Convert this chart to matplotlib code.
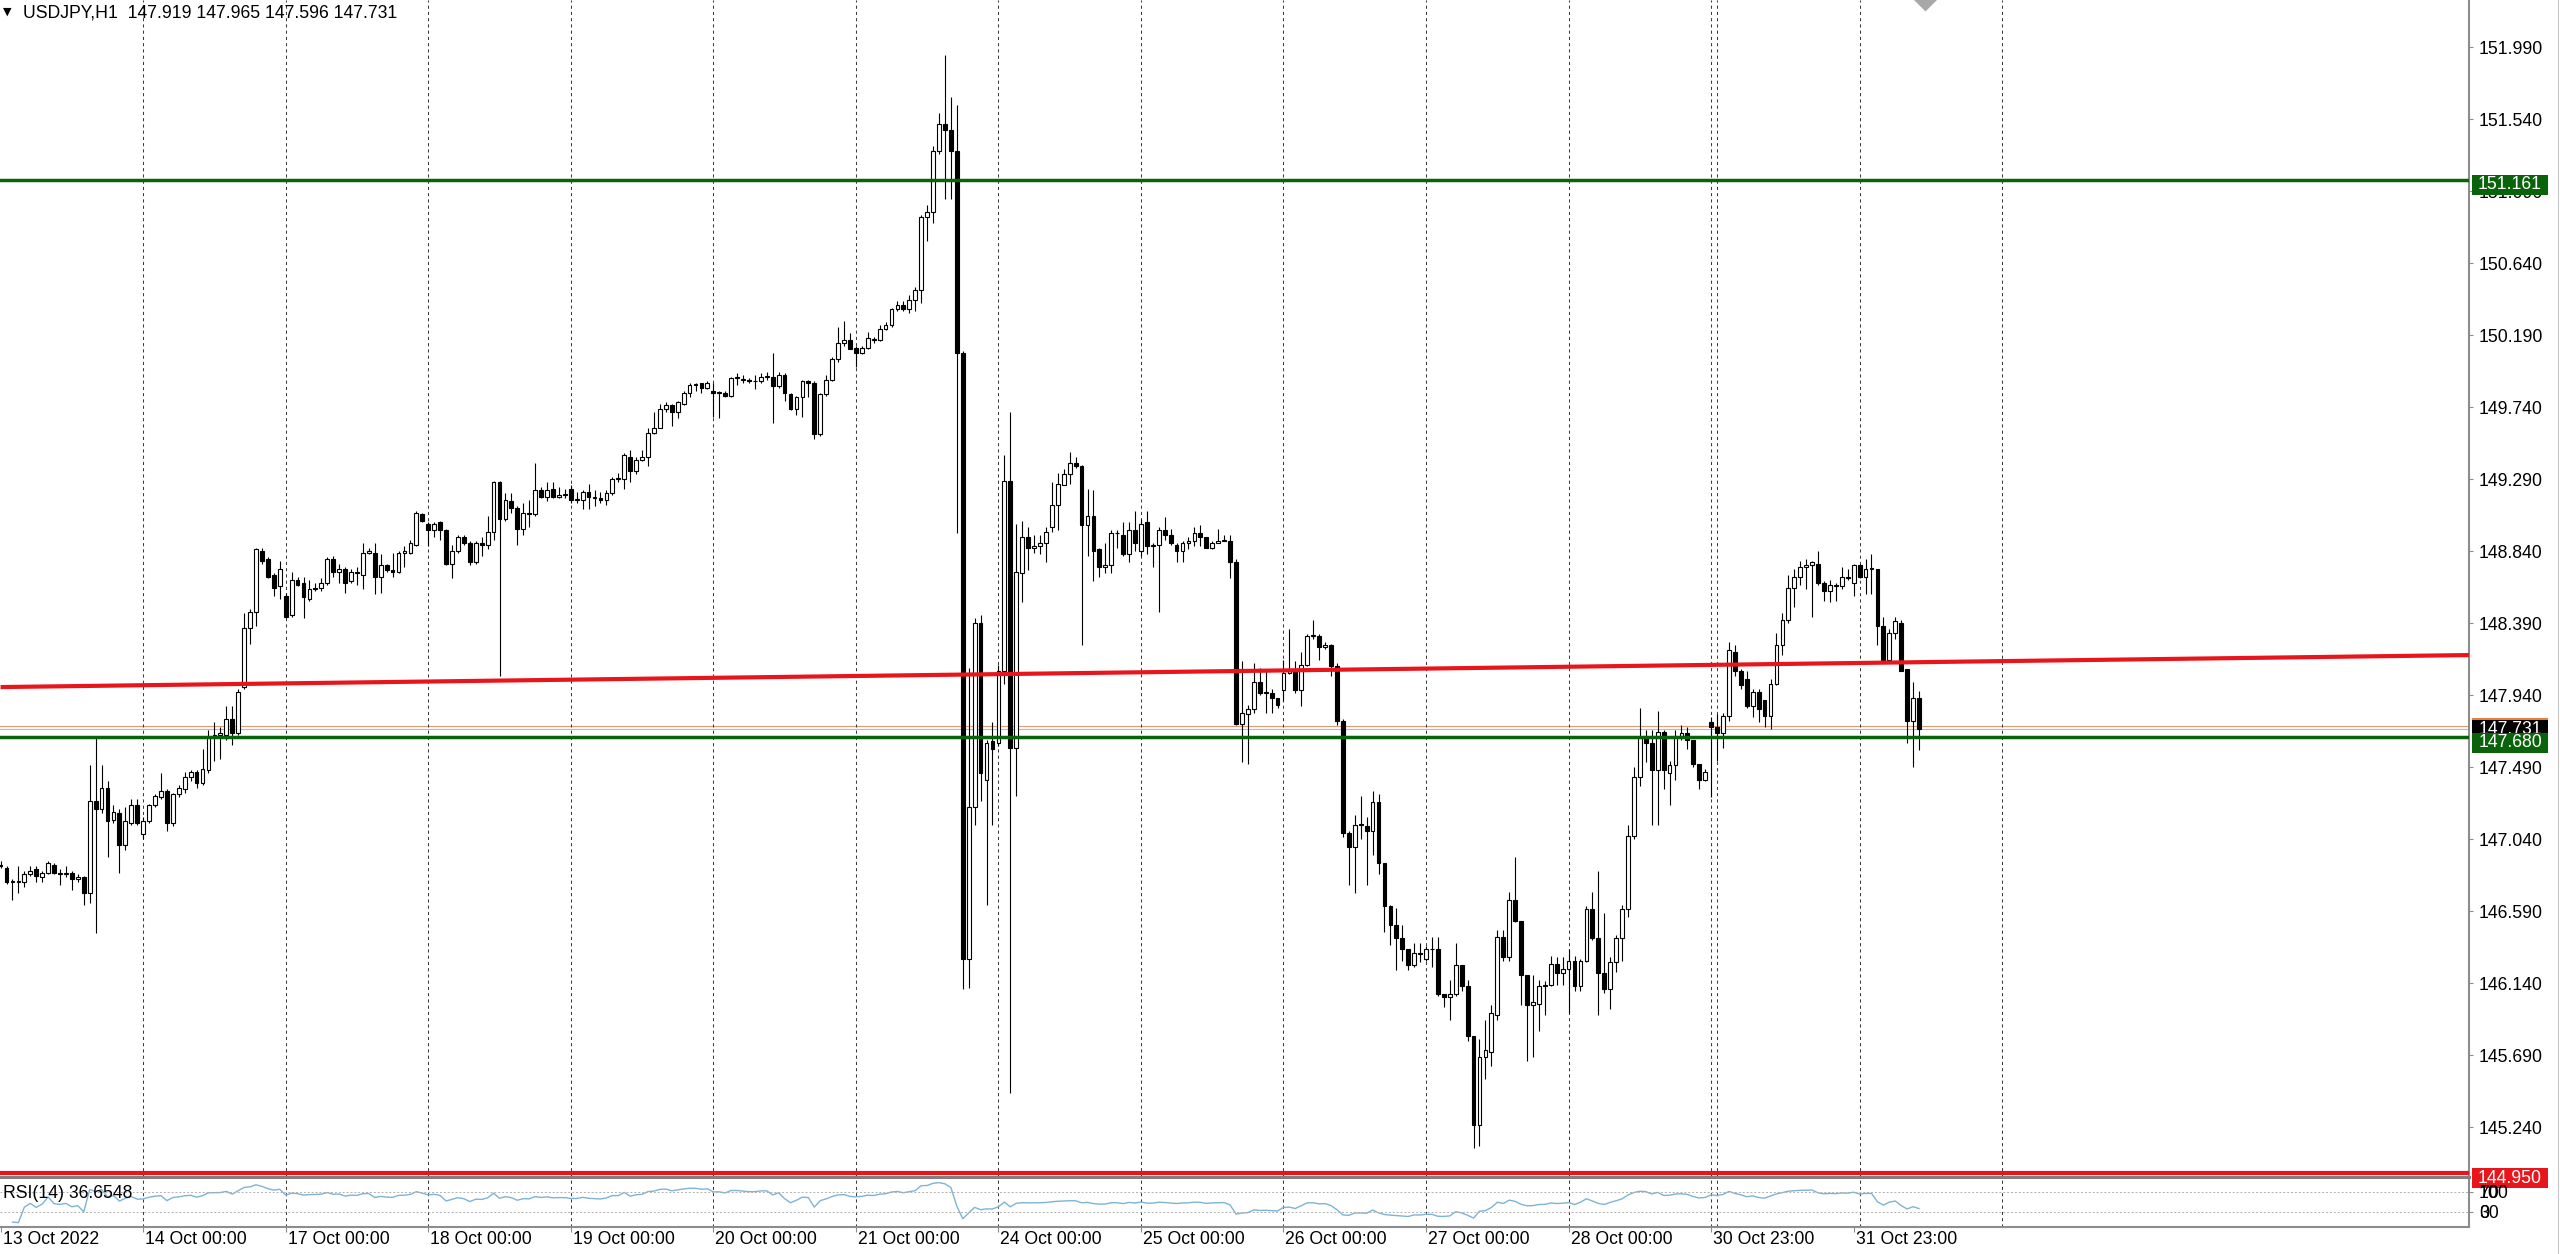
import numpy as np
import pandas as pd
import matplotlib
matplotlib.use("Agg")
import matplotlib.pyplot as plt
from matplotlib.transforms import blended_transform_factory
from matplotlib.lines import Line2D
from matplotlib.patches import Rectangle

plt.rcParams['font.family'] = ['Liberation Sans', 'DejaVu Sans']

# --- chart data (USDJPY H1, 13 Oct 2022 00:00 .. 1 Nov 2022 10:00), one line per trading day ---
symbol_text = "USDJPY,H1  147.919 147.965 147.596 147.731"

opens = [
    146.88, 146.86, 146.77, 146.78, 146.77, 146.82, 146.85, 146.80, 146.83, 146.88, 146.83, 146.82, 146.83, 146.79, 146.80, 146.70, 147.28, 147.23, 147.36, 147.16, 147.20, 147.00, 147.14, 147.25,
    147.07, 147.15, 147.25, 147.30, 147.34, 147.14, 147.32, 147.35, 147.43, 147.46, 147.39, 147.47, 147.68, 147.69, 147.69, 147.79, 147.70, 147.99, 148.36, 148.46, 148.84, 148.79, 148.69, 148.62,
    148.56, 148.44, 148.66, 148.64, 148.54, 148.60, 148.61, 148.64, 148.79, 148.71, 148.73, 148.65, 148.71, 148.69, 148.83, 148.83, 148.68, 148.75, 148.72, 148.71, 148.83, 148.83, 148.88, 149.07,
    149.01, 148.97, 149.02, 148.97, 148.76, 148.84, 148.93, 148.89, 148.77, 148.89, 148.88, 148.96, 149.27, 149.04, 149.15, 149.11, 148.98, 149.08, 149.07, 149.22, 149.18, 149.23, 149.18, 149.19,
    149.23, 149.16, 149.16, 149.21, 149.17, 149.17, 149.16, 149.20, 149.29, 149.29, 149.43, 149.34, 149.41, 149.43, 149.58, 149.61, 149.73, 149.75, 149.71, 149.76, 149.83, 149.88, 149.89, 149.86,
    149.84, 149.83, 149.83, 149.81, 149.92, 149.91, 149.91, 149.90, 149.90, 149.93, 149.93, 149.87, 149.94, 149.82, 149.73, 149.80, 149.90, 149.89, 149.57, 149.82, 149.91, 150.04, 150.14, 150.16,
    150.11, 150.08, 150.11, 150.16, 150.16, 150.23, 150.25, 150.35, 150.38, 150.35, 150.41, 150.47, 150.93, 150.96, 151.34, 151.51, 151.47, 151.34, 150.08, 146.29, 147.24, 148.39, 147.41, 147.65,
    147.64, 148.09, 149.28, 147.61, 148.70, 148.93, 148.86, 148.87, 148.89, 148.99, 149.13, 149.25, 149.32, 149.39, 149.37, 149.00, 149.06, 148.85, 148.74, 148.75, 148.95, 148.94, 148.82, 148.97,
    148.84, 149.02, 148.87, 148.88, 148.97, 148.94, 148.88, 148.84, 148.89, 148.90, 148.95, 148.93, 148.86, 148.89, 148.90, 148.90, 148.77, 147.76, 147.82, 147.85, 148.02, 147.95, 147.95, 147.92,
    147.97, 148.08, 148.09, 147.97, 148.13, 148.31, 148.31, 148.24, 148.25, 148.12, 147.78, 147.08, 146.99, 147.13, 147.12, 147.09, 147.27, 146.89, 146.62, 146.50, 146.42, 146.35, 146.25, 146.33,
    146.29, 146.35, 146.35, 146.07, 146.05, 146.07, 146.25, 146.12, 145.81, 145.25, 145.68, 145.71, 145.94, 146.43, 146.30, 146.66, 146.53, 146.19, 146.00, 146.01, 146.12, 146.13, 146.26, 146.20,
    146.23, 146.28, 146.12, 146.28, 146.60, 146.42, 146.20, 146.10, 146.27, 146.42, 146.60, 147.06, 147.43, 147.67, 147.64, 147.47, 147.71, 147.45, 147.50, 147.68, 147.70, 147.66, 147.51, 147.41,
    147.77, 147.74, 147.70, 147.81, 148.21, 148.09, 148.04, 147.87, 147.96, 147.91, 147.81, 148.01, 148.25, 148.41, 148.61, 148.68, 148.74, 148.75, 148.76, 148.64, 148.59, 148.62, 148.62, 148.68,
    148.64, 148.75, 148.68, 148.73, 148.73, 148.37, 148.16, 148.33, 148.39, 148.10, 147.78, 147.919,
]
highs = [
    146.90, 146.87, 146.79, 146.87, 146.84, 146.87, 146.87, 146.84, 146.90, 146.89, 146.85, 146.87, 146.84, 146.82, 146.81, 147.50, 147.68, 147.50, 147.40, 147.25, 147.23, 147.24, 147.29, 147.29,
    147.18, 147.26, 147.32, 147.45, 147.35, 147.33, 147.38, 147.46, 147.47, 147.47, 147.60, 147.72, 147.77, 147.74, 147.87, 147.87, 147.98, 148.45, 148.48, 148.86, 148.86, 148.80, 148.70, 148.78,
    148.58, 148.71, 148.68, 148.68, 148.66, 148.64, 148.67, 148.80, 148.81, 148.76, 148.74, 148.73, 148.74, 148.89, 148.86, 148.89, 148.82, 148.76, 148.83, 148.84, 148.87, 148.91, 149.09, 149.08,
    149.02, 149.02, 149.03, 148.98, 148.88, 148.94, 148.94, 148.90, 148.90, 148.93, 149.06, 149.28, 149.28, 149.20, 149.20, 149.12, 149.14, 149.16, 149.39, 149.24, 149.27, 149.27, 149.24, 149.23,
    149.25, 149.21, 149.22, 149.26, 149.22, 149.21, 149.22, 149.30, 149.33, 149.45, 149.47, 149.43, 149.47, 149.61, 149.71, 149.76, 149.77, 149.76, 149.78, 149.84, 149.89, 149.89, 149.89, 149.90,
    149.89, 149.84, 149.84, 149.93, 149.95, 149.94, 149.92, 149.94, 149.95, 149.96, 150.08, 149.96, 149.95, 149.83, 149.81, 149.91, 149.91, 149.90, 149.83, 149.94, 150.05, 150.24, 150.28, 150.20,
    150.12, 150.12, 150.21, 150.18, 150.25, 150.27, 150.36, 150.40, 150.40, 150.44, 150.49, 150.94, 151.00, 151.37, 151.58, 151.94, 151.68, 151.63, 150.09, 148.11, 148.42, 148.44, 147.66, 147.77,
    148.13, 149.44, 149.71, 149.01, 149.03, 148.99, 148.94, 148.94, 148.99, 149.27, 149.33, 149.35, 149.46, 149.43, 149.38, 149.23, 149.22, 148.86, 148.89, 148.97, 148.97, 149.02, 149.02, 149.09,
    149.04, 149.09, 148.89, 148.99, 149.05, 148.98, 148.89, 148.90, 148.93, 148.99, 149.00, 148.93, 148.90, 148.98, 148.94, 148.94, 148.79, 148.15, 147.88, 148.14, 148.11, 148.09, 147.98, 147.92,
    148.16, 148.35, 148.15, 148.21, 148.32, 148.41, 148.32, 148.27, 148.26, 148.14, 147.79, 147.09, 147.19, 147.31, 147.18, 147.34, 147.32, 146.89, 146.63, 146.61, 146.50, 146.35, 146.39, 146.39,
    146.37, 146.43, 146.43, 146.07, 146.16, 146.39, 146.25, 146.16, 145.81, 145.79, 145.91, 146.00, 146.47, 146.47, 146.71, 146.93, 146.53, 146.19, 146.19, 146.16, 146.15, 146.31, 146.30, 146.30,
    146.35, 146.31, 146.29, 146.62, 146.71, 146.84, 146.58, 146.30, 146.44, 146.63, 147.13, 147.49, 147.86, 147.72, 147.72, 147.84, 147.72, 147.53, 147.72, 147.75, 147.74, 147.66, 147.51, 147.48,
    147.80, 147.82, 147.83, 148.27, 148.25, 148.10, 148.09, 147.98, 147.98, 147.91, 148.04, 148.33, 148.45, 148.69, 148.73, 148.78, 148.79, 148.78, 148.84, 148.65, 148.66, 148.64, 148.74, 148.73,
    148.76, 148.76, 148.79, 148.82, 148.73, 148.43, 148.35, 148.43, 148.41, 148.10, 148.02, 147.965,
]
lows = [
    146.86, 146.76, 146.66, 146.70, 146.74, 146.81, 146.77, 146.77, 146.82, 146.82, 146.75, 146.80, 146.72, 146.77, 146.63, 146.64, 146.45, 147.20, 146.93, 147.14, 146.83, 146.97, 147.13, 147.13,
    147.04, 147.14, 147.24, 147.29, 147.09, 147.12, 147.30, 147.33, 147.40, 147.36, 147.38, 147.45, 147.53, 147.54, 147.66, 147.63, 147.69, 147.98, 148.26, 148.37, 148.76, 148.67, 148.56, 148.54,
    148.42, 148.43, 148.62, 148.42, 148.53, 148.59, 148.59, 148.63, 148.68, 148.64, 148.58, 148.64, 148.63, 148.60, 148.82, 148.57, 148.58, 148.71, 148.68, 148.70, 148.74, 148.82, 148.87, 149.02,
    148.87, 148.93, 148.91, 148.75, 148.67, 148.83, 148.88, 148.75, 148.76, 148.81, 148.85, 148.91, 148.06, 149.03, 149.08, 148.88, 148.94, 148.99, 149.06, 149.17, 149.15, 149.17, 149.17, 149.17,
    149.14, 149.14, 149.10, 149.10, 149.12, 149.14, 149.13, 149.19, 149.27, 149.23, 149.27, 149.32, 149.40, 149.37, 149.57, 149.61, 149.71, 149.62, 149.67, 149.75, 149.80, 149.84, 149.83, 149.85,
    149.68, 149.67, 149.80, 149.80, 149.88, 149.89, 149.89, 149.85, 149.89, 149.91, 149.64, 149.86, 149.78, 149.72, 149.69, 149.68, 149.80, 149.54, 149.56, 149.81, 149.90, 150.02, 150.12, 150.10,
    149.99, 150.07, 150.10, 150.14, 150.15, 150.22, 150.24, 150.34, 150.34, 150.33, 150.34, 150.39, 150.78, 150.89, 151.32, 151.04, 151.04, 148.95, 146.10, 146.11, 147.13, 147.28, 146.63, 147.13,
    147.62, 148.01, 145.45, 147.31, 148.52, 148.72, 148.83, 148.82, 148.77, 148.96, 148.97, 149.25, 149.26, 149.36, 148.25, 148.81, 148.65, 148.68, 148.70, 148.70, 148.86, 148.81, 148.77, 148.84,
    148.81, 148.82, 148.74, 148.46, 148.91, 148.88, 148.77, 148.77, 148.85, 148.87, 148.87, 148.86, 148.85, 148.89, 148.90, 148.67, 147.75, 147.52, 147.51, 147.83, 147.94, 147.83, 147.83, 147.86,
    147.90, 148.07, 147.95, 147.87, 148.12, 148.29, 148.16, 148.23, 148.06, 147.75, 147.05, 146.75, 146.70, 147.04, 146.75, 146.94, 146.82, 146.46, 146.38, 146.22, 146.28, 146.22, 146.24, 146.27,
    146.28, 146.24, 146.06, 145.99, 145.91, 146.06, 146.09, 145.78, 145.11, 145.12, 145.54, 145.62, 145.91, 146.28, 146.28, 146.52, 146.00, 145.65, 145.68, 145.84, 145.94, 146.12, 146.13, 146.13,
    145.95, 146.09, 146.09, 146.27, 146.41, 145.94, 146.08, 145.98, 146.21, 146.28, 146.55, 147.04, 147.37, 147.52, 147.13, 147.13, 147.35, 147.25, 147.41, 147.66, 147.60, 147.49, 147.35, 147.40,
    147.30, 147.53, 147.61, 147.78, 148.06, 147.98, 147.86, 147.80, 147.77, 147.74, 147.73, 148.00, 148.19, 148.39, 148.49, 148.63, 148.60, 148.43, 148.63, 148.53, 148.52, 148.53, 148.60, 148.66,
    148.56, 148.67, 148.57, 148.57, 148.25, 148.14, 148.16, 148.29, 148.09, 147.64, 147.49, 147.596,
]
closes = [
    146.87, 146.77, 146.78, 146.77, 146.82, 146.84, 146.81, 146.83, 146.89, 146.83, 146.82, 146.83, 146.79, 146.80, 146.70, 147.28, 147.23, 147.36, 147.15, 147.21, 147.00, 147.15, 147.25, 147.14,
    147.15, 147.25, 147.31, 147.34, 147.14, 147.32, 147.36, 147.43, 147.46, 147.39, 147.48, 147.68, 147.69, 147.70, 147.79, 147.70, 147.96, 148.36, 148.46, 148.85, 148.78, 148.68, 148.61, 148.73,
    148.43, 148.66, 148.63, 148.55, 148.60, 148.61, 148.64, 148.79, 148.71, 148.73, 148.64, 148.71, 148.70, 148.83, 148.84, 148.68, 148.75, 148.72, 148.71, 148.83, 148.84, 148.89, 149.08, 149.03,
    148.97, 149.01, 148.97, 148.76, 148.84, 148.93, 148.89, 148.77, 148.89, 148.88, 148.96, 149.27, 149.04, 149.16, 149.11, 148.98, 149.08, 149.07, 149.22, 149.18, 149.22, 149.18, 149.19, 149.19,
    149.16, 149.16, 149.21, 149.18, 149.17, 149.16, 149.20, 149.29, 149.29, 149.44, 149.34, 149.41, 149.43, 149.58, 149.61, 149.73, 149.75, 149.71, 149.77, 149.83, 149.88, 149.88, 149.86, 149.89,
    149.83, 149.83, 149.81, 149.92, 149.92, 149.91, 149.90, 149.90, 149.93, 149.93, 149.87, 149.94, 149.83, 149.73, 149.80, 149.90, 149.89, 149.57, 149.82, 149.91, 150.04, 150.14, 150.16, 150.10,
    150.08, 150.11, 150.17, 150.16, 150.23, 150.25, 150.35, 150.38, 150.35, 150.41, 150.47, 150.93, 150.96, 151.34, 151.51, 151.47, 151.34, 150.08, 146.29, 147.24, 148.39, 147.45, 147.64, 147.60,
    148.09, 149.28, 147.61, 148.71, 148.93, 148.86, 148.87, 148.89, 148.96, 149.13, 149.26, 149.32, 149.39, 149.37, 149.00, 149.06, 148.84, 148.74, 148.75, 148.95, 148.95, 148.82, 148.97, 148.89,
    149.01, 148.87, 148.88, 148.97, 148.94, 148.89, 148.84, 148.89, 148.90, 148.95, 148.93, 148.86, 148.89, 148.90, 148.91, 148.77, 147.76, 147.83, 147.85, 148.02, 147.95, 147.96, 147.92, 147.88,
    148.08, 148.09, 147.97, 148.13, 148.31, 148.31, 148.24, 148.25, 148.12, 147.78, 147.08, 146.99, 147.13, 147.13, 147.09, 147.27, 146.89, 146.62, 146.50, 146.42, 146.35, 146.25, 146.33, 146.32,
    146.35, 146.35, 146.07, 146.05, 146.07, 146.25, 146.12, 145.81, 145.25, 145.68, 145.72, 145.95, 146.43, 146.30, 146.66, 146.53, 146.19, 146.00, 146.02, 146.12, 146.13, 146.26, 146.20, 146.23,
    146.28, 146.12, 146.28, 146.60, 146.42, 146.20, 146.10, 146.27, 146.42, 146.60, 147.06, 147.43, 147.67, 147.64, 147.47, 147.71, 147.47, 147.50, 147.68, 147.70, 147.66, 147.51, 147.41, 147.46,
    147.74, 147.70, 147.81, 148.22, 148.09, 148.00, 147.87, 147.96, 147.85, 147.81, 148.01, 148.25, 148.41, 148.61, 148.68, 148.74, 148.75, 148.77, 148.64, 148.59, 148.63, 148.62, 148.68, 148.67,
    148.75, 148.68, 148.73, 148.73, 148.37, 148.16, 148.33, 148.40, 148.09, 147.78, 147.92, 147.731,
]

date_ticks = [0, 24, 48, 72, 96, 120, 144, 168, 192, 216, 240, 264, 288, 312]
date_labels = ["13 Oct 2022", "14 Oct 00:00", "17 Oct 00:00", "18 Oct 00:00", "19 Oct 00:00",
               "20 Oct 00:00", "21 Oct 00:00", "24 Oct 00:00", "25 Oct 00:00", "26 Oct 00:00",
               "27 Oct 00:00", "28 Oct 00:00", "30 Oct 23:00", "31 Oct 23:00"]
day_separators = [24, 48, 72, 96, 120, 144, 168, 192, 216, 240, 264, 288, 289, 313, 337]

price_ticks = [145.240, 145.690, 146.140, 146.590, 147.040, 147.490, 147.940, 148.390,
               148.840, 149.290, 149.740, 150.190, 150.640, 151.090, 151.540, 151.990]
green_levels = [151.161, 147.680]
red_level = 144.950
trend_bars = [0, 415.6]
trend_prices = [147.99, 148.19]
bid_price = 147.731
ask_price = 147.749
arrow_bar = 324
arrow_price = 152.315

rsi_period = 14
rsi_label = "RSI(14) 36.6548"
rsi_levels = [30, 70]
rsi_scale = [("100", 70), ("70", 70), ("30", 30), ("0", 30)]   # MT4 squeezes the 0/100 labels

# --- layout in pixels of the 2560x1254 picture ---
W, H = 2560, 1254
FS = 12.7
PX = 160.0          # pixels per yen on the main scale
GREEN = '#0a620a'
RED = '#e8161c'

fig = plt.figure(figsize=(W / 100, H / 100), dpi=100)
fig.patch.set_facecolor('white')
ax = fig.add_axes([0, 77 / H, 2469 / W, 1177 / H])
ax_rsi = fig.add_axes([0, 27 / H, 2469 / W, 50 / H])

x = np.arange(len(closes))
o = np.array(opens)
h = np.array(highs)
l = np.array(lows)
c = np.array(closes)
up = c >= o

# candles
ax.vlines(x, l, h, color='black', lw=0.8, zorder=2)
body_low = np.minimum(o, c)
body_h = np.maximum(np.abs(c - o), 0.005)
ax.bar(x, body_h, bottom=body_low, width=0.64,
       color=np.where(up, 'white', 'black'), edgecolor='black', linewidth=0.8, zorder=3)

# objects drawn on the chart
ax.axhline(ask_price, color='#e39a6c', lw=0.8, zorder=1)
ax.axhline(bid_price, color='#b9b9b9', lw=0.8, zorder=1)
for lvl in green_levels:
    ax.axhline(lvl, color=GREEN, lw=2.5, zorder=4)
ax.axhline(red_level, color=RED, lw=3, zorder=4)
ax.plot(trend_bars, trend_prices, color=RED, lw=3, zorder=4, solid_capstyle='butt')
ax.plot([arrow_bar], [arrow_price], marker='D', ms=16, color='#a8a8a8', mec='none', zorder=5)

# RSI(14), Wilder smoothing
close_s = pd.Series(closes)
delta = close_s.diff().fillna(0)
gain = delta.clip(lower=0).ewm(alpha=1 / rsi_period, adjust=True).mean()
loss = (-delta.clip(upper=0)).ewm(alpha=1 / rsi_period, adjust=True).mean()
rsi = (100 * gain / (gain + loss)).fillna(50)
ax_rsi.plot(x[2:], rsi.values[2:], color='#7db4d6', lw=1)
for lvl in rsi_levels:
    ax_rsi.axhline(lvl, color='#b0b0b0', lw=0.7, ls=(0, (2, 2)))

for a in (ax, ax_rsi):
    for s in day_separators:
        a.axvline(s, color='#3c3c3c', lw=0.75, ls=(0, (3, 3)), zorder=1)
    a.set_xlim(-0.1, 415.6)
    a.set_facecolor('white')
    a.spines['left'].set_visible(False)
    a.spines['right'].set_color('#8c8c8c')
    a.spines['right'].set_linewidth(1.5)
    a.yaxis.tick_right()
    a.tick_params(axis='y', which='both', direction='out', length=3, width=0.8,
                  color='#8c8c8c', labelcolor='black', pad=4, labelsize=FS,
                  left=False, right=True, labelleft=False, labelright=True)

ax.set_ylim(144.928, 152.284)
ax.spines['top'].set_visible(False)
ax.spines['bottom'].set_color('#808080')
ax.spines['bottom'].set_linewidth(2.2)
ax.set_xticks([])
ax.set_yticks(price_ticks)
ax.set_yticklabels([f"{v:.3f}" for v in price_ticks])

ax_rsi.set_ylim(0, 100)
ax_rsi.spines['top'].set_color('#808080')
ax_rsi.spines['top'].set_linewidth(2.2)
ax_rsi.spines['bottom'].set_color('#8c8c8c')
ax_rsi.spines['bottom'].set_linewidth(1.5)
ax_rsi.set_yticks(rsi_levels)
ax_rsi.set_yticklabels([])
rsi_tr = blended_transform_factory(ax_rsi.transAxes, ax_rsi.transData)
for txt, lvl in rsi_scale:
    ax_rsi.annotate(txt, xy=(1, lvl), xycoords=rsi_tr, xytext=(10, -1), textcoords='offset pixels',
                    ha='left', va='center', fontsize=FS, annotation_clip=False, zorder=7)
ax_rsi.set_xticks(date_ticks)
ax_rsi.set_xticklabels([])
ax_rsi.tick_params(axis='x', direction='out', length=3.6, width=0.8, color='#8c8c8c')
for b, lab in zip(date_ticks, date_labels):
    ax_rsi.annotate(lab, xy=(b, 0), xycoords=('data', 'axes fraction'),
                    xytext=(2, -13), textcoords='offset pixels',
                    ha='left', va='center', fontsize=FS, annotation_clip=False)

# price tags on the right scale: boxes 2472..2548 px wide, 20 px high
tag_tr = blended_transform_factory(ax.transAxes, ax.transData)
def price_tag(price, bg, shift_px=0.0, top_edge=None):
    yc = price - shift_px / PX
    ax.add_patch(Rectangle((2472 / 2469, yc - 10 / PX), 76 / 2469, 20 / PX, transform=tag_tr,
                           facecolor=bg, edgecolor='none', clip_on=False, zorder=6))
    if top_edge:
        ax.add_patch(Rectangle((2472 / 2469, yc + 10 / PX), 76 / 2469, 2 / PX, transform=tag_tr,
                               facecolor=top_edge, edgecolor='none', clip_on=False, zorder=6))
    ax.text(2510 / 2469, yc, f"{price:.3f}", transform=tag_tr, ha='center', va='center',
            fontsize=FS, color='white', clip_on=False, zorder=6)

price_tag(green_levels[0], GREEN, shift_px=5)
price_tag(bid_price, 'black', shift_px=1, top_edge='#e8803c')
price_tag(green_levels[1], GREEN, shift_px=6)
price_tag(red_level, RED, shift_px=5)

# header and indicator caption
fig.text(3 / W, 1 - 12 / H, "\u25bc", fontsize=8, va='center', ha='left', family=['DejaVu Sans'])
fig.text(23 / W, 1 - 13 / H, symbol_text, fontsize=FS, va='center', ha='left')
fig.text(3 / W, 1 - 1193 / H, rsi_label, fontsize=FS, va='center', ha='left')
fig.add_artist(Line2D([2557.5 / W] * 2, [0, 1], transform=fig.transFigure, color='#c8c8c8', lw=0.8))

fig.savefig("out.png", dpi=100, facecolor='white')
